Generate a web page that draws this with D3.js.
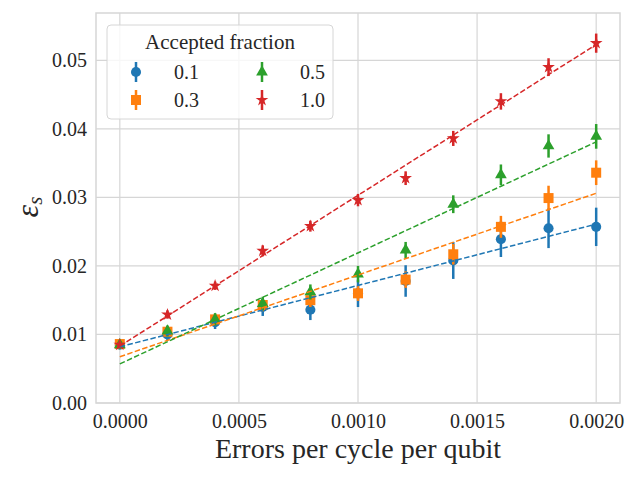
<!DOCTYPE html>
<html>
<head>
<meta charset="utf-8">
<script src="https://cdn.jsdelivr.net/npm/d3@7"></script>
<style>
  body { margin: 0; background: #fff; }
  svg text { font-family: "Liberation Serif", "Times New Roman", serif !important; }
</style>
</head>
<body>
<div id="chart"></div>
<script>
var xValues = [0, 0.0002, 0.0004, 0.0006, 0.0008, 0.0010, 0.0012, 0.0014, 0.0016, 0.0018, 0.0020];
var fractions = ["0.1", "0.3", "0.5", "1.0"];
var colors = ["#1f77b4", "#ff7f0e", "#2ca02c", "#d62728"];

var y01 = [0.0085, 0.0100, 0.0118, 0.0140, 0.0136, 0.0160, 0.0178, 0.0208, 0.0239, 0.0255, 0.0257];
var e01 = [0.0006, 0.0008, 0.0010, 0.0013, 0.0015, 0.0020, 0.0023, 0.0027, 0.0026, 0.0029, 0.0028];
var y03 = [0.0086, 0.0104, 0.0122, 0.0143, 0.0150, 0.0160, 0.0180, 0.0217, 0.0257, 0.0299, 0.0336];
var e03 = [0.0006, 0.0007, 0.0008, 0.0009, 0.0010, 0.0011, 0.0012, 0.0015, 0.0016, 0.0018, 0.0018];
var y05 = [0.0085, 0.0105, 0.0122, 0.0145, 0.0162, 0.0188, 0.0223, 0.0290, 0.0333, 0.0375, 0.0389];
var e05 = [0.0006, 0.0008, 0.0009, 0.0010, 0.0011, 0.0012, 0.0012, 0.0013, 0.0015, 0.0017, 0.0018];
var y10 = [0.0085, 0.0129, 0.0171, 0.0222, 0.0258, 0.0296, 0.0328, 0.0386, 0.0440, 0.0490, 0.0525];
var e10 = [0.0005, 0.0006, 0.0006, 0.0008, 0.0008, 0.0009, 0.0010, 0.0011, 0.0012, 0.0013, 0.0014];

// fitted dashed lines: value at x=0 and at x=0.002
var fitStart = [0.0082, 0.00675, 0.0057, 0.0083];
var fitEnd = [0.0261, 0.0306, 0.0381, 0.0523];

var xTicks = [0, 0.0005, 0.0010, 0.0015, 0.0020];
var yTicks = [0, 0.01, 0.02, 0.03, 0.04, 0.05];

var series = [
  {name: fractions[0], y: y01, err: e01, color: colors[0], symbol: d3.symbolCircle, size: 80},
  {name: fractions[1], y: y03, err: e03, color: colors[1], symbol: d3.symbolSquare, size: 100},
  {name: fractions[2], y: y05, err: e05, color: colors[2], symbol: d3.symbolTriangle, size: 60},
  {name: fractions[3], y: y10, err: e10, color: colors[3], symbol: d3.symbolStar, size: 50}
];

var margin = {top: 13, right: 20, bottom: 77, left: 96},
    width = 640 - margin.left - margin.right,
    height = 480 - margin.top - margin.bottom;

var svg = d3.select("#chart")
    .append("svg")
    .attr("width", 640)
    .attr("height", 480)
    .append("g")
    .attr("transform", "translate(" + margin.left + "," + margin.top + ")");

var x = d3.scaleLinear()
    .domain([-0.0001, 0.0021])
    .range([0, width]);

var y = d3.scaleLinear()
    .domain([0, 0.0569])
    .range([height, 0]);

// grid
svg.append("g").selectAll("line").data(xTicks).join("line")
    .attr("x1", d => x(d)).attr("x2", d => x(d))
    .attr("y1", 0).attr("y2", height)
    .attr("stroke", "#d6d6d6").attr("stroke-width", 1.2);
svg.append("g").selectAll("line").data(yTicks).join("line")
    .attr("y1", d => y(d)).attr("y2", d => y(d))
    .attr("x1", 0).attr("x2", width)
    .attr("stroke", "#d6d6d6").attr("stroke-width", 1.2);

// frame
svg.append("rect")
    .attr("width", width).attr("height", height)
    .attr("fill", "none").attr("stroke", "#d6d6d6").attr("stroke-width", 1.5);

// axes
var xAxis = svg.append("g")
    .attr("transform", "translate(0," + height + ")")
    .call(d3.axisBottom(x).tickValues(xTicks).tickFormat(d3.format(".4f")).tickSize(0).tickPadding(11));
var yAxis = svg.append("g")
    .call(d3.axisLeft(y).tickValues(yTicks).tickFormat(d3.format(".2f")).tickSize(0).tickPadding(9));
[xAxis, yAxis].forEach(function(a) {
  a.select(".domain").remove();
  a.selectAll("text").attr("font-size", 20).attr("fill", "#262626");
});

// data
series.forEach(function(s) {
  var g = svg.append("g");
  g.selectAll("line.err").data(xValues).join("line")
      .attr("class", "err")
      .attr("x1", d => x(d)).attr("x2", d => x(d))
      .attr("y1", (d, i) => y(s.y[i] - s.err[i]))
      .attr("y2", (d, i) => y(s.y[i] + s.err[i]))
      .attr("stroke", s.color).attr("stroke-width", 2.5);
  g.selectAll("path.pt").data(xValues).join("path")
      .attr("class", "pt")
      .attr("d", d3.symbol().type(s.symbol).size(s.size))
      .attr("transform", (d, i) => "translate(" + x(d) + "," + y(s.y[i]) + ")")
      .attr("fill", s.color);
});

series.forEach(function(s, k) {
  svg.append("line")
      .attr("x1", x(0)).attr("y1", y(fitStart[k]))
      .attr("x2", x(0.002)).attr("y2", y(fitEnd[k]))
      .attr("stroke", s.color).attr("stroke-width", 1.5)
      .attr("stroke-dasharray", "5.5,2.4");
});

// labels
svg.append("text")
    .attr("x", width / 2).attr("y", height + 55)
    .attr("text-anchor", "middle")
    .attr("font-size", 28).attr("fill", "#262626")
    .text("Errors per cycle per qubit");

svg.append("text")
    .attr("transform", "translate(-58," + (height / 2 - 1) + ") rotate(-90)")
    .attr("text-anchor", "middle")
    .attr("font-size", 32).attr("font-style", "italic").attr("fill", "#262626")
    .html("ε<tspan font-size='21' dy='4'>s</tspan>");

// legend
var leg = svg.append("g").attr("transform", "translate(11,12)");
leg.append("rect")
    .attr("width", 226).attr("height", 94).attr("rx", 4)
    .attr("fill", "#fff").attr("fill-opacity", 0.8)
    .attr("stroke", "#d6d6d6").attr("stroke-width", 1);
leg.append("text")
    .attr("x", 113).attr("y", 24)
    .attr("text-anchor", "middle").attr("font-size", 21).attr("fill", "#262626")
    .text("Accepted fraction");
var legPos = [[29, 47], [29, 75], [155, 47], [155, 75]];
series.forEach(function(s, k) {
  var p = legPos[k];
  var it = leg.append("g").attr("transform", "translate(" + p[0] + "," + p[1] + ")");
  it.append("line").attr("y1", -10).attr("y2", 10)
      .attr("stroke", s.color).attr("stroke-width", 2.5);
  it.append("path").attr("d", d3.symbol().type(s.symbol).size(s.size)).attr("fill", s.color);
  it.append("text").attr("x", 38).attr("y", 7)
      .attr("font-size", 20).attr("fill", "#262626").text(s.name);
});
</script>
</body>
</html>
